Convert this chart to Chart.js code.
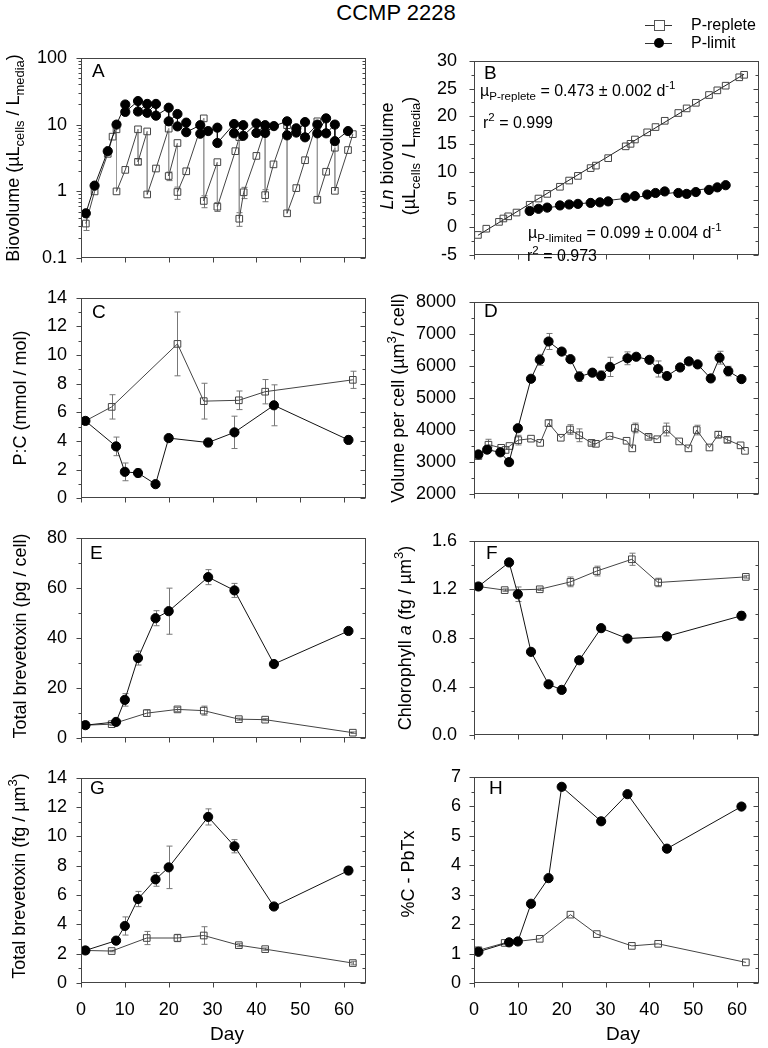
<!DOCTYPE html>
<html>
<head>
<meta charset="utf-8">
<script src="https://cdn.jsdelivr.net/npm/chart.js@4.4.1/dist/chart.umd.min.js"></script>
<style>
  html, body { margin: 0; padding: 0; background: #fff; }
  body { width: 768px; height: 1048px; position: relative; overflow: hidden;
         font-family: Arial, "Liberation Sans", sans-serif; color: #000; }
  canvas { position: absolute; }
  .txt { position: absolute; white-space: nowrap; line-height: 1; }
  .ytitle { position: absolute; white-space: nowrap; font-size: 18px; line-height: 22px; text-align: center;
            transform: translate(-50%, -50%) rotate(-90deg); }
  .letter { position: absolute; font-size: 19px; line-height: 1; }
  .note { position: absolute; white-space: nowrap; font-size: 16px; line-height: 16px; }
  sub, sup { font-size: 72%; line-height: 0; }
  sub { vertical-align: -0.35em; }
  sup { vertical-align: 0.65em; }
</style>
</head>
<body>

<canvas id="cA"></canvas><canvas id="cB"></canvas>
<canvas id="cC"></canvas><canvas id="cD"></canvas>
<canvas id="cE"></canvas><canvas id="cF"></canvas>
<canvas id="cG"></canvas><canvas id="cH"></canvas>

<!-- title + legend -->
<div class="txt" style="left:396px;top:13px;font-size:22px;transform:translate(-50%,-50%)">CCMP 2228</div>
<div style="position:absolute;left:645px;top:25px;width:27px;border-top:1px solid #333"></div>
<div style="position:absolute;left:654px;top:20px;width:9px;height:9px;border:1px solid #555;background:#fff"></div>
<div class="txt" style="left:691px;top:17px;font-size:16px">P-replete</div>
<div style="position:absolute;left:645px;top:43px;width:27px;border-top:1px solid #333"></div>
<div style="position:absolute;left:654px;top:38px;width:10px;height:10px;border-radius:50%;background:#000"></div>
<div class="txt" style="left:691px;top:35px;font-size:16px">P-limit</div>

<!-- panel letters -->
<div class="letter" style="left:92px;top:61px">A</div>
<div class="letter" style="left:484px;top:63px">B</div>
<div class="letter" style="left:92px;top:302px">C</div>
<div class="letter" style="left:484px;top:301px">D</div>
<div class="letter" style="left:90px;top:543px">E</div>
<div class="letter" style="left:486px;top:543px">F</div>
<div class="letter" style="left:90px;top:778px">G</div>
<div class="letter" style="left:489px;top:778px">H</div>

<!-- y axis titles -->
<div class="ytitle" style="left:13px;top:158px">Biovolume (µL<sub>cells</sub> / L<sub>media</sub>)</div>
<div class="ytitle" style="left:398px;top:156px"><i>Ln</i> biovolume<br>(µL<sub>cells</sub> / L<sub>media</sub>)</div>
<div class="ytitle" style="left:20px;top:398px">P:C (mmol / mol)</div>
<div class="ytitle" style="left:398px;top:398px">Volume per cell (µm<sup>3</sup>/ cell)</div>
<div class="ytitle" style="left:20px;top:636px">Total brevetoxin (pg / cell)</div>
<div class="ytitle" style="left:405px;top:638px">Chlorophyll <i>a</i> (fg / µm<sup>3</sup>)</div>
<div class="ytitle" style="left:19px;top:876px">Total brevetoxin (fg / µm<sup>3</sup>)</div>
<div class="ytitle" style="left:408px;top:874px">%C - PbTx</div>

<!-- x axis titles -->
<div class="txt" style="left:227px;top:1033px;font-size:19px;transform:translate(-50%,-50%)">Day</div>
<div class="txt" style="left:623px;top:1033px;font-size:19px;transform:translate(-50%,-50%)">Day</div>

<!-- growth rate notes in B -->
<div class="note" style="left:480px;top:83px">µ<sub>P-replete</sub> = 0.473 ± 0.002 d<sup>-1</sup></div>
<div class="note" style="left:483px;top:115px">r<sup>2</sup> = 0.999</div>
<div class="note" style="left:528px;top:225px">µ<sub>P-limited</sub> = 0.099 ± 0.004 d<sup>-1</sup></div>
<div class="note" style="left:527px;top:248px">r<sup>2</sup> = 0.973</div>

<script>
// ---- data ----
const xTicks = [0, 10, 20, 30, 40, 50, 60];

// A: biovolume (semi-continuous, before/after dilution pairs)
const aLimitDay = [1.1, 3.1, 6.1, 8.1, 10.1, 10.1, 13, 13, 15.1, 15.1, 17.1, 17.1, 20, 20, 22, 22, 24, 24, 27.2, 27.2, 29, 31.1, 31.1, 34.9, 34.9, 37, 37, 40, 40, 42, 42, 44, 47, 47, 49.1, 49.1, 51.1, 51.1, 53.9, 53.9, 55.9, 55.9, 57.9, 57.9, 60.9];
const aLimitVal = [0.47, 1.22, 4.0, 10, 20, 15.5, 22.5, 15.7, 20.4, 15.0, 20.4, 13.6, 17.9, 11.2, 14.4, 9.4, 10.7, 7.7, 9.8, 7.3, 8.0, 9.0, 5.3, 10.2, 7.4, 9.8, 6.8, 10.4, 7.5, 9.8, 7.5, 9.5, 11.2, 6.9, 8.8, 7.6, 10.9, 6.45, 10.0, 7.4, 12.4, 7.4, 10, 5.65, 8.0];
const aReplDay = [1.1, 3.1, 6.1, 7.2, 8.1, 8.1, 10.1, 13, 13, 15.1, 15.1, 17.1, 20, 20, 22, 22, 24, 28, 28, 31.1, 31.1, 35.2, 36.1, 36.1, 37.1, 40, 42, 42, 43.9, 47, 47, 49.1, 51.1, 53.9, 53.9, 55.9, 57.9, 57.9, 60.9, 62];
const aReplVal = [0.33, 1.0, 3.65, 6.6, 8.5, 1.0, 2.1, 8.5, 2.77, 7.9, 0.9, 2.2, 8.7, 1.7, 5.3, 0.98, 2.0, 12.4, 0.72, 2.74, 0.59, 4.0, 6.5, 0.39, 0.97, 3.4, 8.6, 0.88, 2.54, 9.8, 0.47, 1.12, 2.93, 11.2, 0.75, 1.97, 4.5, 1.02, 4.16, 7.2];
const aReplErr = [[0.26, 0.41], 0, 0, 0, 0, 0, 0, 0, [2.5, 3.05], 0, 0, 0, 0, [1.45, 1.95], 0, [0.76, 1.16], 0, 0, [0.57, 0.86], 0, [0.5, 0.68], 0, 0, [0.3, 0.48], [0.78, 1.15], 0, 0, [0.7, 1.06], 0, 0, 0, 0, 0, 0, 0, 0, 0, 0, 0, 0];
const aTicks = [0.1, 1, 10, 100];

// B: ln biovolume
const bReplDay = [0.9, 2.8, 5.7, 6.7, 7.8, 9.7, 12.7, 14.7, 16.7, 19.6, 21.7, 23.7, 26.6, 27.8, 30.6, 34.6, 35.7, 36.7, 39.5, 41.4, 43.5, 46.6, 48.5, 50.6, 53.6, 55.5, 57.4, 60.5, 61.6];
const bReplVal = [-1.35, -0.23, 1.0, 1.61, 2.0, 2.68, 4.08, 5.2, 6.04, 7.32, 8.44, 9.28, 10.68, 11.13, 12.47, 14.6, 15.05, 15.83, 17.12, 18.07, 19.2, 20.6, 21.43, 22.44, 23.84, 24.68, 25.52, 27.03, 27.48];
const bLimitDay = [12.7, 14.7, 16.7, 19.6, 21.7, 23.7, 26.6, 28.7, 30.6, 34.6, 36.7, 39.5, 41.4, 43.5, 46.6, 48.5, 50.6, 53.6, 55.5, 57.4];
const bLimitVal = [2.96, 3.35, 3.57, 3.96, 4.13, 4.24, 4.41, 4.52, 4.69, 5.36, 5.64, 5.92, 6.2, 6.48, 6.2, 6.04, 6.37, 6.76, 7.21, 7.6];

// C: P:C
const cLimitDay = [1, 8, 10, 13, 17, 20, 29, 35, 44, 61];
const cLimitVal = [5.4, 3.62, 1.84, 1.76, 0.98, 4.2, 3.89, 4.6, 6.49, 4.07];
const cLimitErr = [0.15, 0.65, 0.62, 0.28, 0, 0, 0.3, 1.13, 1.43, 0.27];
const cReplDay = [1, 7, 22, 28, 36, 42, 62];
const cReplVal = [5.4, 6.38, 10.78, 6.78, 6.84, 7.44, 8.27];
const cReplErr = [0.1, 0.85, 2.23, 1.25, 0.65, 0.85, 0.6];

// D: volume per cell
const dLimitDay = [1, 3, 6, 8, 10, 13, 15, 17, 20, 22, 24, 27, 29, 31, 35, 37, 40, 42, 44, 47, 49, 51, 54, 56, 58, 61];
const dLimitVal = [3240, 3390, 3305, 3000, 4057, 5600, 6190, 6762, 6448, 6210, 5667, 5790, 5695, 5970, 6238, 6286, 6190, 5905, 5686, 5952, 6143, 6048, 5610, 6257, 5838, 5590];
const dLimitErr = [0, 0, 0, 0, 0, 0, 170, 250, 0, 0, 150, 100, 150, 300, 200, 0, 0, 250, 0, 0, 0, 0, 0, 200, 150, 0];
const dReplDay = [1, 3.3, 6.2, 7.2, 8.1, 10.1, 13, 15.1, 17, 19.8, 21.9, 24, 26.8, 27.8, 30.9, 34.8, 36.1, 36.7, 39.8, 41.8, 43.9, 46.8, 48.9, 50.8, 53.7, 55.7, 57.8, 60.8, 61.8];
const dReplVal = [3190, 3543, 3446, 3380, 3503, 3686, 3732, 3600, 4217, 3760, 4017, 3837, 3600, 3571, 3817, 3666, 3429, 4066, 3789, 3714, 4017, 3646, 3429, 4000, 3457, 3857, 3695, 3523, 3352];
const dReplErr = [0, 170, 0, 0, 0, 150, 0, 0, 100, 0, 150, 200, 60, 0, 0, 0, 0, 150, 60, 0, 200, 0, 0, 150, 0, 100, 80, 0, 0];

// sampling days for E/G/H (and replete F)
const toxLimitDay = [1, 8, 10, 13, 17, 20, 29, 35, 44, 61];
const toxReplDay = [1, 7, 15, 22, 28, 36, 42, 62];

// E: brevetoxin per cell
const eLimitVal = [5.2, 6.5, 15.3, 32, 47.9, 50.7, 64.3, 59, 29.6, 42.8];
const eLimitErr = [0, 0, 2.5, 2.8, 3.0, 9.2, 3.0, 2.8, 0, 1.3];
const eReplVal = [5.2, 5.6, 10.0, 11.5, 11.0, 7.6, 7.4, 2.2];
const eReplErr = [0, 0.5, 1.3, 0.8, 1.8, 0.4, 0.4, 0.3];

// F: chlorophyll a
const fLimitDay = [1, 8, 10, 13, 17, 20, 24, 29, 35, 44, 61];
const fLimitVal = [1.224, 1.422, 1.16, 0.686, 0.419, 0.373, 0.617, 0.881, 0.795, 0.813, 0.983];
const fLimitErr = [0, 0, 0.06, 0, 0, 0, 0, 0, 0, 0, 0.035];
const fReplVal = [1.224, 1.194, 1.201, 1.262, 1.351, 1.448, 1.257, 1.303];
const fReplErr = [0, 0.01, 0.01, 0.04, 0.04, 0.05, 0.035, 0.01];

// G: brevetoxin per volume
const gLimitVal = [2.22, 2.89, 3.89, 5.73, 7.07, 7.89, 11.33, 9.33, 5.22, 7.67];
const gLimitErr = [0, 0, 0.62, 0.52, 0.47, 1.45, 0.55, 0.45, 0, 0.27];
const gReplVal = [2.22, 2.18, 3.07, 3.07, 3.24, 2.58, 2.31, 1.36];
const gReplErr = [0, 0.05, 0.45, 0.25, 0.6, 0.1, 0.08, 0.12];

// H: %C as PbTx
const hLimitVal = [1.06, 1.38, 1.41, 2.69, 3.56, 6.66, 5.49, 6.41, 4.56, 5.99];
const hReplVal = [1.11, 1.36, 1.5, 2.32, 1.66, 1.26, 1.33, 0.7];

// ---- layout ----
const ROW_TOP = [53, 293, 533, 773];
const PLOT_H = 210;
const COLS = [{ left: 0, yw: 81, rpad: 18 }, { left: 384, yw: 90, rpad: 9 }];

Chart.defaults.font.family = 'Arial, "Liberation Sans", sans-serif';
Chart.defaults.font.size = 18;
Chart.defaults.color = '#000';

function pts(xs, ys) { return xs.map((x, i) => ({ x: x, y: ys[i] })); }

const limitStyle = {
    borderColor: '#111', borderWidth: 1, showLine: true,
    pointStyle: 'circle', pointRadius: 4.6,
    pointBackgroundColor: '#000', pointBorderColor: '#000'
};
const replStyle = {
    borderColor: '#444', borderWidth: 1, showLine: true,
    pointStyle: 'rect', pointRadius: 4.7,
    pointBackgroundColor: 'rgba(255,255,255,0)', pointBorderColor: '#444', pointBorderWidth: 1
};

// least squares line through a series (for panel B)
function fitLine(xs, ys) {
    const n = xs.length;
    const mx = xs.reduce((a, b) => a + b, 0) / n;
    const my = ys.reduce((a, b) => a + b, 0) / n;
    let sxy = 0, sxx = 0;
    xs.forEach((x, i) => { sxy += (x - mx) * (ys[i] - my); sxx += (x - mx) * (x - mx); });
    const k = sxy / sxx, b = my - k * mx;
    const x0 = Math.min(...xs), x1 = Math.max(...xs);
    return [{ x: x0, y: k * x0 + b }, { x: x1, y: k * x1 + b }];
}

// error bars, drawn under the markers
const errorBars = {
    id: 'errorBars',
    beforeDatasetsDraw(chart) {
        const ctx = chart.ctx, ys = chart.scales.y;
        chart.data.datasets.forEach((ds, i) => {
            if (!ds.errors) return;
            const meta = chart.getDatasetMeta(i);
            ctx.save();
            ctx.strokeStyle = '#777';
            ctx.lineWidth = 1;
            meta.data.forEach((pt, j) => {
                const e = ds.errors[j];
                if (!e) return;
                const v = ds.data[j].y;
                const lo = Array.isArray(e) ? e[0] : v - e;
                const hi = Array.isArray(e) ? e[1] : v + e;
                const x = Math.round(pt.x) + 0.5;
                const y1 = ys.getPixelForValue(lo), y2 = ys.getPixelForValue(hi);
                ctx.beginPath();
                ctx.moveTo(x, y1); ctx.lineTo(x, y2);
                ctx.moveTo(x - 3, y1); ctx.lineTo(x + 3, y1);
                ctx.moveTo(x - 3, y2); ctx.lineTo(x + 3, y2);
                ctx.stroke();
            });
            ctx.restore();
        });
    }
};

// box frame + major/minor tick marks (out on left/bottom, in on right)
const frameTicks = {
    id: 'frameTicks',
    afterDraw(chart) {
        const ctx = chart.ctx, a = chart.chartArea;
        const ys = chart.scales.y, xs = chart.scales.x;
        const L = Math.round(a.left) + 0.5, R = Math.round(a.right) - 0.5;
        const T = Math.round(a.top) + 0.5, B = Math.round(a.bottom) - 0.5;
        ctx.save();
        ctx.strokeStyle = '#444';
        ctx.lineWidth = 1;
        ctx.strokeRect(L, T, R - L, B - T);

        const majors = ys.ticks.map(t => t.value);
        let minors = [];
        if (ys.type === 'logarithmic') {
            for (let d = ys.min; d < ys.max * 0.999; d *= 10) {
                for (let m = 2; m <= 9; m++) minors.push(d * m);
            }
        } else {
            for (let i = 1; i < majors.length; i++) minors.push((majors[i - 1] + majors[i]) / 2);
        }
        ctx.beginPath();
        majors.forEach(v => {
            const y = Math.round(ys.getPixelForValue(v)) + 0.5;
            ctx.moveTo(L - 5, y); ctx.lineTo(L, y);
            ctx.moveTo(R, y); ctx.lineTo(R - 5, y);
        });
        minors.forEach(v => {
            const y = Math.round(ys.getPixelForValue(v)) + 0.5;
            ctx.moveTo(L - 3, y); ctx.lineTo(L, y);
            ctx.moveTo(R, y); ctx.lineTo(R - 3, y);
        });
        xs.ticks.forEach(t => {
            const x = Math.round(xs.getPixelForValue(t.value)) + 0.5;
            ctx.moveTo(x, B); ctx.lineTo(x, B + 5);
        });
        ctx.stroke();
        ctx.restore();
    }
};

function makePanel(id, col, row, yScale, datasets) {
    const c = COLS[col];
    const bottomRow = row === 3;
    const xh = bottomRow ? 40 : 12;
    const cv = document.getElementById(id);
    cv.width = 384;
    cv.height = 12 + PLOT_H + xh;
    cv.style.left = c.left + 'px';
    cv.style.top = (ROW_TOP[row] - 12) + 'px';

    return new Chart(cv, {
        type: 'line',
        data: { datasets: datasets },
        options: {
            responsive: false,
            animation: false,
            devicePixelRatio: 1,
            events: [],
            layout: { padding: { top: 12, right: c.rpad, left: 0, bottom: 0 } },
            plugins: { legend: { display: false }, tooltip: { enabled: false } },
            scales: {
                x: {
                    type: 'linear', min: 0, max: 65,
                    grid: { display: false }, border: { display: false },
                    ticks: { display: bottomRow, padding: 8, maxRotation: 0, callback: v => String(v) },
                    afterBuildTicks: s => { s.ticks = xTicks.map(v => ({ value: v })); },
                    afterFit: s => { s.height = xh; }
                },
                y: Object.assign({
                    grid: { display: false }, border: { display: false },
                    afterFit: s => { s.width = c.yw; }
                }, yScale)
            }
        },
        plugins: [errorBars, frameTicks]
    });
}

// --- A ---
makePanel('cA', 0, 0, {
    type: 'logarithmic', min: 0.1, max: 100,
    afterBuildTicks: s => { s.ticks = aTicks.map(v => ({ value: v })); },
    ticks: { padding: 6, callback: v => String(v) }
}, [
    Object.assign({ data: pts(aLimitDay, aLimitVal) }, limitStyle),
    Object.assign({
        data: pts(aReplDay, aReplVal), errors: aReplErr,
        segment: { borderColor: ctx => ctx.p0.parsed.x === ctx.p1.parsed.x ? '#999' : '#444' }
    }, replStyle)
]);

// --- B ---
makePanel('cB', 1, 0, {
    min: -5, max: 30, ticks: { stepSize: 5, padding: 9, callback: v => String(v) }
}, [
    Object.assign({}, limitStyle, { data: pts(bLimitDay, bLimitVal), showLine: false }),
    Object.assign({}, replStyle, { data: pts(bReplDay, bReplVal), showLine: false }),
    { data: fitLine(bLimitDay, bLimitVal), borderColor: '#222', borderWidth: 1, pointRadius: 0 },
    { data: fitLine(bReplDay, bReplVal), borderColor: '#222', borderWidth: 1, pointRadius: 0 }
]);

// --- C ---
makePanel('cC', 0, 1, {
    min: 0, max: 14, ticks: { stepSize: 2, padding: 6, callback: v => String(v) }
}, [
    Object.assign({ data: pts(cLimitDay, cLimitVal), errors: cLimitErr }, limitStyle),
    Object.assign({ data: pts(cReplDay, cReplVal), errors: cReplErr }, replStyle)
]);

// --- D ---
makePanel('cD', 1, 1, {
    min: 2000, max: 8000, ticks: { stepSize: 1000, padding: 10, callback: v => String(v) }
}, [
    Object.assign({ data: pts(dLimitDay, dLimitVal), errors: dLimitErr }, limitStyle),
    Object.assign({ data: pts(dReplDay, dReplVal), errors: dReplErr }, replStyle)
]);

// --- E ---
makePanel('cE', 0, 2, {
    min: 0, max: 80, ticks: { stepSize: 20, padding: 6, callback: v => String(v) }
}, [
    Object.assign({ data: pts(toxLimitDay, eLimitVal), errors: eLimitErr }, limitStyle),
    Object.assign({ data: pts(toxReplDay, eReplVal), errors: eReplErr }, replStyle)
]);

// --- F ---
makePanel('cF', 1, 2, {
    min: 0, max: 1.6, ticks: { stepSize: 0.4, padding: 9, callback: v => Number(v).toFixed(1) }
}, [
    Object.assign({ data: pts(fLimitDay, fLimitVal), errors: fLimitErr }, limitStyle),
    Object.assign({ data: pts(toxReplDay, fReplVal), errors: fReplErr }, replStyle)
]);

// --- G ---
makePanel('cG', 0, 3, {
    min: 0, max: 14, ticks: { stepSize: 2, padding: 6, callback: v => String(v) }
}, [
    Object.assign({ data: pts(toxLimitDay, gLimitVal), errors: gLimitErr }, limitStyle),
    Object.assign({ data: pts(toxReplDay, gReplVal), errors: gReplErr }, replStyle)
]);

// --- H ---
makePanel('cH', 1, 3, {
    min: 0, max: 7, ticks: { stepSize: 1, padding: 5, callback: v => String(v) }
}, [
    Object.assign({ data: pts(toxLimitDay, hLimitVal) }, limitStyle),
    Object.assign({ data: pts(toxReplDay, hReplVal) }, replStyle)
]);
</script>
</body>
</html>
